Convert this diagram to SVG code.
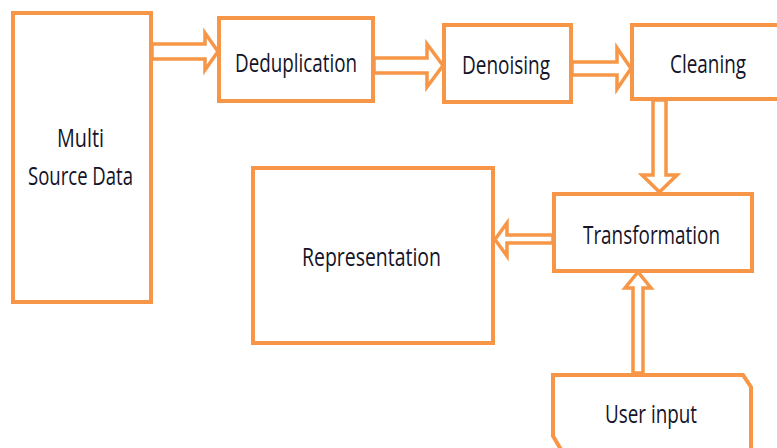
<svg xmlns="http://www.w3.org/2000/svg" width="777" height="448" viewBox="0 0 777 448">
<style>
.box{fill:#fff;stroke:#F79646;stroke-width:4}
.arr{fill:#fff;stroke:#F79646;stroke-width:3.5;stroke-linejoin:miter}
.lbl{font-family:"Open Sans","Liberation Sans",sans-serif;font-size:26px;fill:#141428;text-anchor:middle}
</style>
<rect width="777" height="448" fill="#fff"/>
<g id="connectors">
<polygon class="arr" points="152,44 205,44 205,33 218,51.5 205,70 205,59 152,59"/>
<polygon class="arr" points="374,58 427,58 427,44 443,65.5 427,87 427,73 374,73"/>
<polygon class="arr" points="572,62 617,62 617,48 631,68.5 617,89 617,75 572,75"/>
<polygon class="arr" points="653,100 666,100 666,175 677,175 659.5,192 642,175 653,175"/>
<polygon class="arr" points="553,235 507,235 507,223 495,239.5 507,256 507,243 553,243"/>
<polygon class="arr" points="633,373 633,288 625,288 638,272 651,288 643,288 643,373"/>
</g>
<g id="multi-source-data">
<rect class="box" x="13" y="13" width="138" height="289"/>
<text class="lbl" x="80.5" y="147" textLength="47" lengthAdjust="spacingAndGlyphs">Multi</text>
<text class="lbl" x="80.5" y="185" textLength="105" lengthAdjust="spacingAndGlyphs">Source Data</text>
</g>
<g id="deduplication">
<rect class="box" x="219" y="18" width="154" height="83"/>
<text class="lbl" x="296" y="72" textLength="122" lengthAdjust="spacingAndGlyphs">Deduplication</text>
</g>
<g id="denoising">
<rect class="box" x="444" y="25" width="127" height="77"/>
<text class="lbl" x="506" y="74" textLength="88" lengthAdjust="spacingAndGlyphs">Denoising</text>
</g>
<g id="cleaning">
<rect class="box" x="632" y="25" width="170" height="74"/>
<text class="lbl" x="708" y="73" textLength="76" lengthAdjust="spacingAndGlyphs">Cleaning</text>
</g>
<g id="transformation">
<rect class="box" x="554" y="194" width="198" height="77"/>
<text class="lbl" x="651.5" y="244" textLength="137" lengthAdjust="spacingAndGlyphs">Transformation</text>
</g>
<g id="representation">
<rect class="box" x="253" y="168" width="240" height="175"/>
<text class="lbl" x="371.5" y="266" textLength="139" lengthAdjust="spacingAndGlyphs">Representation</text>
</g>
<g id="user-input">
<path class="box" d="M563,453 L553,436 V375 H743 L751,387 V453 Z"/>
<text class="lbl" x="651" y="423" textLength="92" lengthAdjust="spacingAndGlyphs">User input</text>
</g>
</svg>
